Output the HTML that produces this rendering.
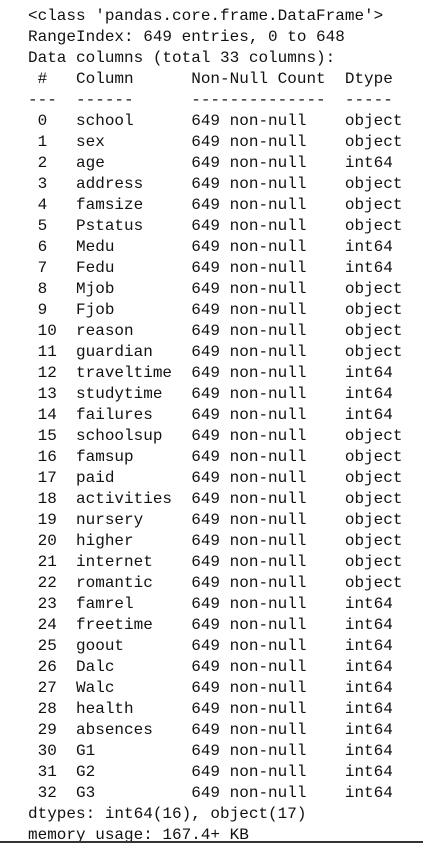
<!DOCTYPE html>
<html><head><meta charset="utf-8"><style>
html,body{margin:0;padding:0;background:#fff;width:423px;height:843px;overflow:hidden;position:relative}
pre{position:absolute;left:28px;top:6px;margin:0;font-family:"Liberation Mono",monospace;font-size:16px;line-height:21px;color:#111}
.b{position:absolute;left:0;top:841px;width:423px;height:2px;background:#333}
</style></head><body>
<pre>&lt;class 'pandas.core.frame.DataFrame'&gt;
RangeIndex: 649 entries, 0 to 648
Data columns (total 33 columns):
 #   Column      Non-Null Count  Dtype 
---  ------      --------------  ----- 
 0   school      649 non-null    object
 1   sex         649 non-null    object
 2   age         649 non-null    int64 
 3   address     649 non-null    object
 4   famsize     649 non-null    object
 5   Pstatus     649 non-null    object
 6   Medu        649 non-null    int64 
 7   Fedu        649 non-null    int64 
 8   Mjob        649 non-null    object
 9   Fjob        649 non-null    object
 10  reason      649 non-null    object
 11  guardian    649 non-null    object
 12  traveltime  649 non-null    int64 
 13  studytime   649 non-null    int64 
 14  failures    649 non-null    int64 
 15  schoolsup   649 non-null    object
 16  famsup      649 non-null    object
 17  paid        649 non-null    object
 18  activities  649 non-null    object
 19  nursery     649 non-null    object
 20  higher      649 non-null    object
 21  internet    649 non-null    object
 22  romantic    649 non-null    object
 23  famrel      649 non-null    int64 
 24  freetime    649 non-null    int64 
 25  goout       649 non-null    int64 
 26  Dalc        649 non-null    int64 
 27  Walc        649 non-null    int64 
 28  health      649 non-null    int64 
 29  absences    649 non-null    int64 
 30  G1          649 non-null    int64 
 31  G2          649 non-null    int64 
 32  G3          649 non-null    int64 
dtypes: int64(16), object(17)
memory usage: 167.4+ KB</pre>
<div class="b"></div>
</body></html>
